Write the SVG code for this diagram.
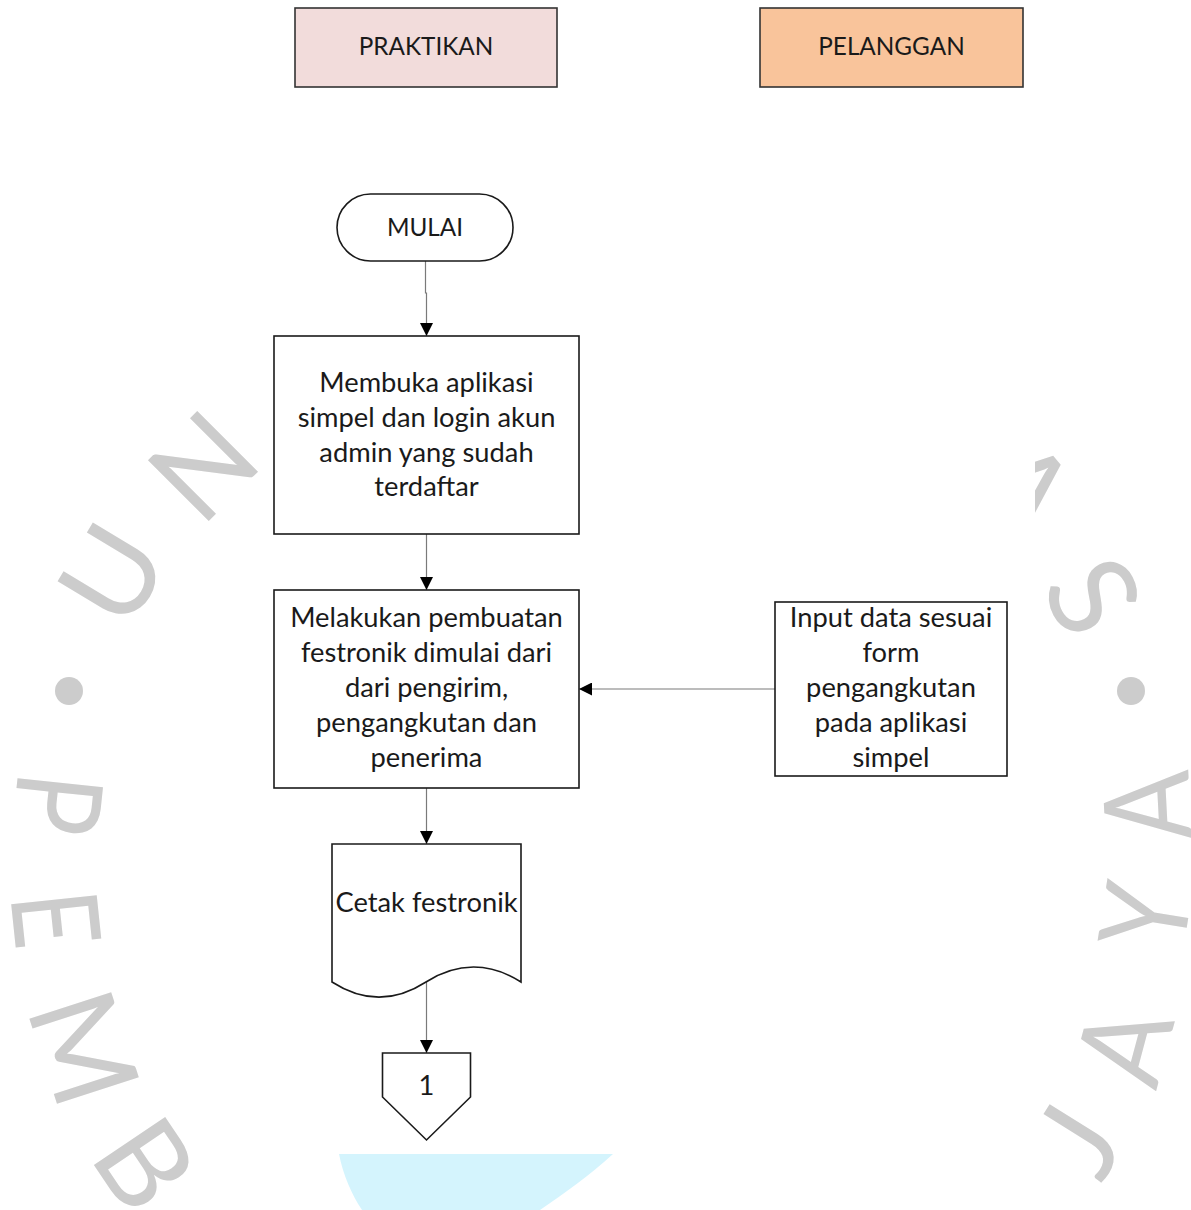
<svg xmlns="http://www.w3.org/2000/svg" width="1191" height="1210" viewBox="0 0 1191 1210">
<defs>
<style>
.wm{font-family:Lato,"Liberation Sans",Arial,sans-serif;font-weight:400;font-size:120px;fill:#cccccc;text-anchor:middle}
.box{fill:#ffffff;stroke:#1a1a1a;stroke-width:1.6}
.hdr{stroke:#333333;stroke-width:1.6}
.t{font-family:Lato,"Liberation Sans",sans-serif;font-size:27.3px;fill:#1a1a1a;text-anchor:middle}
.c{font-family:Lato,"Liberation Sans",sans-serif;font-size:24.3px;fill:#1a1a1a;text-anchor:middle}
.conn{fill:none;stroke:#7a7a7a;stroke-width:1.2}
</style>
<marker id="ah" viewBox="0 0 13 13" refX="13" refY="6.5" markerWidth="13" markerHeight="13" markerUnits="userSpaceOnUse" orient="auto"><path d="M0,0 L13,6.5 L0,13 Z" fill="#000000"/></marker>
<clipPath id="cr"><rect x="1035" y="400" width="156" height="150"/></clipPath>
</defs>
<rect x="0" y="0" width="1191" height="1210" fill="#ffffff"/>
<g id="watermark">
<text class="wm" transform="translate(112,574) rotate(-59)" y="43">U</text>
<text class="wm" transform="translate(203,466) rotate(-45)" y="43">N</text>
<circle cx="69" cy="691" r="14" fill="#cccccc"/>
<text class="wm" transform="translate(58,804) rotate(96) scale(0.85,1)" y="43">P</text>
<text class="wm" transform="translate(56,919) rotate(84) scale(0.82,1)" y="43">E</text>
<text class="wm" transform="translate(84,1048) rotate(72)" y="43">M</text>
<text class="wm" transform="translate(145,1164) rotate(56)" y="43">B</text>
<g clip-path="url(#cr)"><text class="wm" transform="translate(1024,488) rotate(50)" y="43">A</text></g>
<text class="wm" transform="translate(1093,596) rotate(62)" y="43">S</text>
<circle cx="1131" cy="691" r="14" fill="#cccccc"/>
<text class="wm" transform="translate(1147,806) rotate(-93) scale(0.85,1)" y="43">A</text>
<text class="wm" transform="translate(1145,916) rotate(-81) scale(0.85,1)" y="43">Y</text>
<text class="wm" transform="translate(1124,1045) rotate(-75) scale(0.9,1)" y="43">A</text>
<text class="wm" transform="translate(1078,1140) rotate(-58)" y="43">J</text>
<path d="M339,1154 L613,1154 C590,1175 565,1193 540,1210 L362,1210 C352,1195 343,1175 339,1154 Z" fill="#d4f4fd"/>
</g>
<g id="connectors">
<path class="conn" d="M425.5,261 V293 H426.5 V336" marker-end="url(#ah)"/>
<path class="conn" d="M426.5,534 V590" marker-end="url(#ah)"/>
<path class="conn" d="M775,689 H579" marker-end="url(#ah)"/>
<path class="conn" d="M426.5,788 V844" marker-end="url(#ah)"/>
<path class="conn" d="M426.5,982 V1053" marker-end="url(#ah)"/>
</g>
<g id="praktikan">
<rect class="hdr" x="295" y="8" width="262" height="79" fill="#f2dcdb"/>
<text class="c" x="426" y="55">PRAKTIKAN</text>
</g>
<g id="pelanggan">
<rect class="hdr" x="760" y="8" width="263" height="79" fill="#f9c49b"/>
<text class="c" x="891.5" y="55">PELANGGAN</text>
</g>
<g id="mulai">
<rect class="box" x="337" y="194" width="176" height="67" rx="33.5"/>
<text class="c" x="425" y="236">MULAI</text>
</g>
<g id="membuka">
<rect class="box" x="274" y="336" width="305" height="198"/>
<text class="t" x="426.5" y="392">Membuka aplikasi</text>
<text class="t" x="426.5" y="427">simpel dan login akun</text>
<text class="t" x="426.5" y="462">admin yang sudah</text>
<text class="t" x="426.5" y="496">terdaftar</text>
</g>
<g id="melakukan">
<rect class="box" x="274" y="590" width="305" height="198"/>
<text class="t" x="426.5" y="627">Melakukan pembuatan</text>
<text class="t" x="426.5" y="662">festronik dimulai dari</text>
<text class="t" x="426.5" y="697">dari pengirim,</text>
<text class="t" x="426.5" y="732">pengangkutan dan</text>
<text class="t" x="426.5" y="767">penerima</text>
</g>
<g id="input">
<rect class="box" x="775" y="602" width="232" height="174"/>
<text class="t" x="891" y="627">Input data sesuai</text>
<text class="t" x="891" y="662">form</text>
<text class="t" x="891" y="697">pengangkutan</text>
<text class="t" x="891" y="732">pada aplikasi</text>
<text class="t" x="891" y="767">simpel</text>
</g>
<g id="cetak">
<path class="box" d="M332,844 H521 V982 C490,962 457,962 426,982 C395,1002 363,1002 332,982 Z"/>
<text class="t" x="426.5" y="912">Cetak festronik</text>
</g>
<g id="offpage">
<path class="box" d="M382.5,1053 H470.5 V1097 L426.5,1140 L382.5,1097 Z"/>
<text class="t" x="426.5" y="1095">1</text>
</g>
</svg>
